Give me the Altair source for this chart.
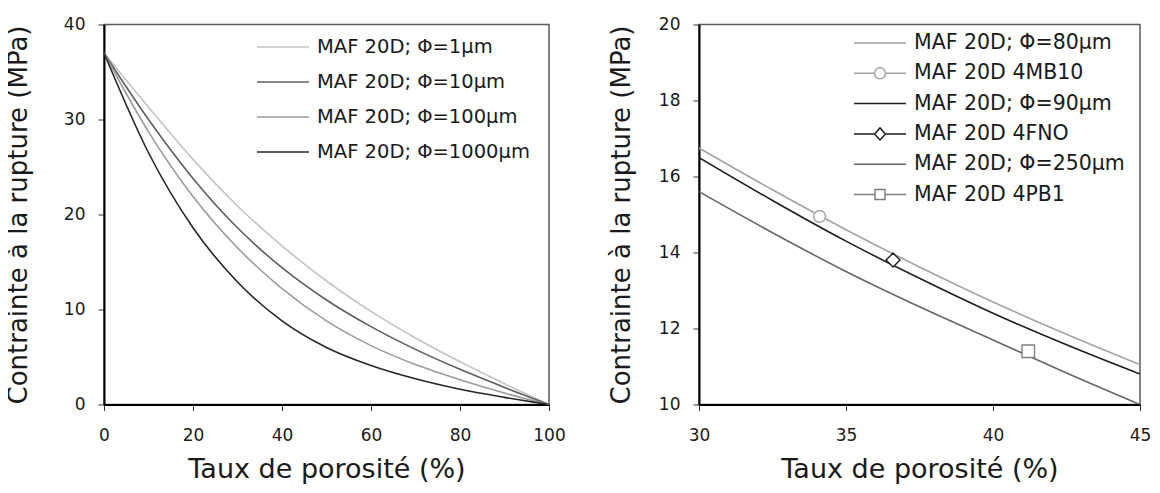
import altair as alt
import pandas as pd

FONT = "DejaVu Sans"

# ---------------- Left panel data ----------------
por_left = [0, 10, 20, 30, 40, 50, 60, 70, 80, 90, 100]
s_1um = [37, 31.3, 25.8, 20.9, 16.7, 13.0, 9.8, 7.0, 4.5, 2.2, 0]
s_10um = [37, 30.0, 23.8, 18.6, 14.4, 11.0, 8.2, 5.8, 3.7, 1.8, 0]
s_100um = [37, 28.7, 21.9, 16.5, 12.2, 8.8, 6.2, 4.2, 2.6, 1.2, 0]
s_1000um = [37, 26.5, 18.6, 12.9, 8.8, 6.0, 4.1, 2.7, 1.6, 0.75, 0]
left_names = ["MAF 20D; Φ=1μm", "MAF 20D; Φ=10μm", "MAF 20D; Φ=100μm", "MAF 20D; Φ=1000μm"]
left_colors = ["#c4c4c4", "#5e5e5e", "#9b9b9b", "#262626"]

# ---------------- Right panel data ----------------
por_right = [30, 32.5, 35, 37.5, 40, 42.5, 45]
s_80um = [16.75, 15.65, 14.6, 13.62, 12.7, 11.85, 11.05]
s_90um = [16.5, 15.37, 14.3, 13.32, 12.4, 11.57, 10.8]
s_250um = [15.6, 14.52, 13.5, 12.57, 11.7, 10.83, 10.0]
right_line_names = ["MAF 20D; Φ=80μm", "MAF 20D; Φ=90μm", "MAF 20D; Φ=250μm"]
marker_names = ["MAF 20D 4MB10", "MAF 20D 4FNO", "MAF 20D 4PB1"]
marker_x = [34.1, 36.6, 41.2]
marker_y = [14.95, 13.8, 11.4]
right_order = ["MAF 20D; Φ=80μm", "MAF 20D 4MB10", "MAF 20D; Φ=90μm",
               "MAF 20D 4FNO", "MAF 20D; Φ=250μm", "MAF 20D 4PB1"]
right_colors = ["#a3a3a3", "#a3a3a3", "#1e1e1e", "#1e1e1e", "#666666", "#808080"]

# legend symbol paths (line, line+circle, line+diamond, line+square)
P_LINE = "M-2.6,0L2.6,0"
P_CIRC = "M-2.6,0L-0.55,0M0.55,0L2.6,0M-0.55,0A0.55,0.55 0 1,0 0.55,0A0.55,0.55 0 1,0 -0.55,0"
P_DIAM = "M-2.6,0L-0.55,0M0.55,0L2.6,0M-0.55,0L0,-0.6L0.55,0L0,0.6Z"
P_SQUA = "M-2.6,0L-0.5,0M0.5,0L2.6,0M-0.5,-0.5L0.5,-0.5L0.5,0.5L-0.5,0.5Z"
right_paths = [P_LINE, P_CIRC, P_LINE, P_DIAM, P_LINE, P_SQUA]

rows = []
for name, vals in zip(left_names, [s_1um, s_10um, s_100um, s_1000um]):
    for x, y in zip(por_left, vals):
        rows.append({"serie": name, "p": x, "s": y})
df_left = pd.DataFrame(rows)

rows = []
for name, vals in zip(right_line_names, [s_80um, s_90um, s_250um]):
    for x, y in zip(por_right, vals):
        rows.append({"serie": name, "p": x, "s": y})
df_right = pd.DataFrame(rows)

df_marks = pd.DataFrame({"serie": marker_names, "p": marker_x, "s": marker_y})

XT = "Taux de porosité (%)"
YT = "Contrainte à la rupture (MPa)"


def legend_def(x, y, row_pad, fs, **kw):
    return alt.Legend(title=None, orient="none", legendX=x, legendY=y, padding=0,
                      symbolSize=400, symbolStrokeWidth=1.5, symbolOpacity=1,
                      labelOffset=23, labelFont=FONT, labelFontSize=fs,
                      labelColor="#1a1a1a", rowPadding=row_pad, labelLimit=500, **kw)


# ---------------- Left chart ----------------
left = alt.Chart(df_left).mark_line(strokeWidth=1.6, interpolate="monotone", clip=True).encode(
    x=alt.X("p:Q", scale=alt.Scale(domain=[0, 100], nice=False, zero=False),
            axis=alt.Axis(values=[0, 20, 40, 60, 80, 100], title=XT)),
    y=alt.Y("s:Q", scale=alt.Scale(domain=[0, 40], nice=False),
            axis=alt.Axis(values=[0, 10, 20, 30, 40], title=YT, titlePadding=32)),
    stroke=alt.Stroke("serie:N", scale=alt.Scale(domain=left_names, range=left_colors),
                      legend=legend_def(168, 11.5, 14.0, 19.5, symbolType=P_LINE)),
).properties(width=445, height=380)

# ---------------- Right chart ----------------
xr = alt.X("p:Q", scale=alt.Scale(domain=[30, 45], nice=False, zero=False),
           axis=alt.Axis(values=[30, 35, 40, 45], title=XT))
yr = alt.Y("s:Q", scale=alt.Scale(domain=[10, 20], nice=False, zero=False),
           axis=alt.Axis(values=[10, 12, 14, 16, 18, 20], title=YT, titlePadding=24))
stroke_scale = alt.Scale(domain=right_order, range=right_colors)

leg_r = legend_def(170, 7.5, 8.3, 20.5)
r_legend = alt.Chart(df_marks).mark_point(opacity=0, size=400, strokeWidth=1.5).encode(
    x=xr, y=yr,
    stroke=alt.Stroke("serie:N", scale=stroke_scale, legend=leg_r),
    shape=alt.Shape("serie:N", scale=alt.Scale(domain=right_order, range=right_paths), legend=leg_r),
)

r_lines = alt.Chart(df_right).mark_line(strokeWidth=1.6, interpolate="monotone", clip=True).encode(
    x=xr, y=yr, stroke=alt.Stroke("serie:N", scale=stroke_scale, legend=None),
)

marker_layers = []
for name, shp, sz in zip(marker_names, ["circle", "diamond", "square"], [140, 196, 156]):
    marker_layers.append(
        alt.Chart(df_marks).transform_filter(alt.datum.serie == name)
        .mark_point(shape=shp, size=sz, filled=True, fill="white", strokeWidth=1.4, opacity=1)
        .encode(x=xr, y=yr, stroke=alt.Stroke("serie:N", scale=stroke_scale, legend=None))
    )

right = alt.layer(r_legend, r_lines, *marker_layers).properties(width=441, height=380)

chart = alt.hconcat(left, right, spacing=41).resolve_scale(
    stroke="independent", shape="independent"
).resolve_legend(
    stroke="independent", shape="independent"
).properties(
    padding={"left": -4, "top": 6.5, "right": 0, "bottom": 0}
).configure_view(
    stroke="#5a5a5a", strokeWidth=1.5
).configure_axis(
    grid=False, domainColor="#000000", domainWidth=2, tickColor="#333333", tickWidth=1,
    tickSize=6, labelFont=FONT, labelFontSize=17, labelColor="#1a1a1a", labelFlush=False,
    labelOverlap=False, titleFont=FONT, titleFontSize=26, titleFontWeight="normal",
    titleColor="#1a1a1a"
).configure_axisX(
    labelPadding=17, titlePadding=13, titleFontSize=27
).configure_axisY(
    labelPadding=13
)

chart.save("out.html", embed_options={"renderer": "svg", "actions": False})
